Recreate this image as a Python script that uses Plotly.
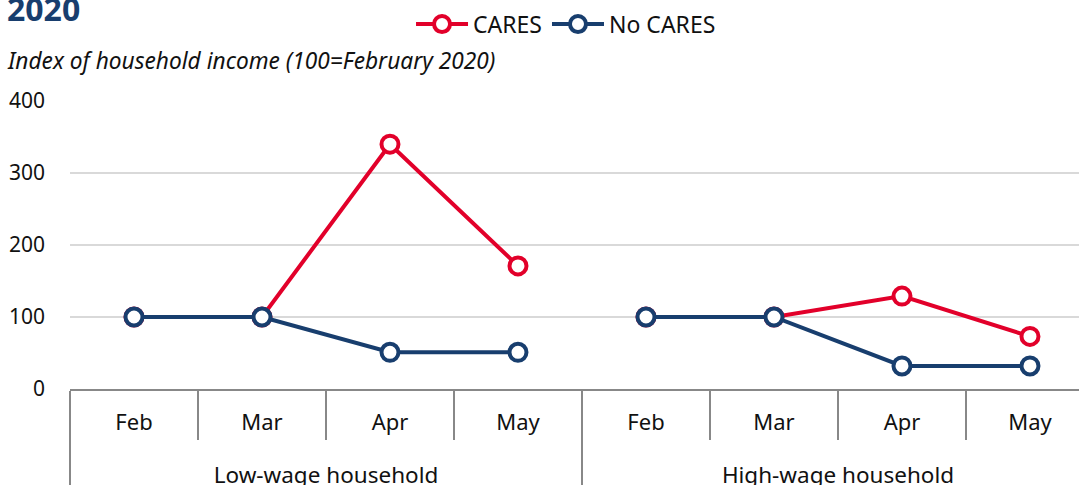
import plotly.graph_objects as go

group_names = ["Low-wage household", "High-wage household"]
months = ["Feb", "Mar", "Apr", "May"]
cares = {"Low-wage household": [100, 100, 340, 171],
         "High-wage household": [100, 100, 129, 73]}
no_cares = {"Low-wage household": [100, 100, 51, 51],
            "High-wage household": [100, 100, 32, 32]}
y_ticks = [0, 100, 200, 300, 400]

RED = "#e2002a"
NAVY = "#183e6e"
FONT = "Noto Sans"
MON = "<span style='font-size:22px'>{}</span>"
GRP = "<br><span style='font-size:22.5px'>{}</span>"

fig = go.Figure()
for name, data, col in [("CARES", cares, RED), ("No CARES", no_cares, NAVY)]:
    for i, g in enumerate(group_names):
        fig.add_trace(go.Scatter(
            x=[[GRP.format(g)] * len(months), [MON.format(m) for m in months]],
            y=data[g], name=name,
            legendgroup=name, showlegend=(i == 0), mode="lines+markers",
            line=dict(color=col, width=4),
            marker=dict(symbol="circle", size=17, color="white",
                        line=dict(color=col, width=4)),
        ))

fig.update_layout(
    width=1079, height=485,
    margin=dict(l=70, r=0, t=101, b=96, autoexpand=False),
    paper_bgcolor="white", plot_bgcolor="white",
    font=dict(family=FONT, size=21, color="#111"),
    showlegend=True,
    legend=dict(orientation="h", x=0.4916, xanchor="center", y=1.267, yanchor="middle",
                font=dict(size=23), traceorder="normal", itemwidth=52),
)
fig.update_xaxes(
    type="multicategory", range=[-0.5, 7.383], automargin=False,
    showline=True, linecolor="#888", linewidth=1.5,
    ticks="outside", tickson="boundaries", ticklen=49, tickcolor="#888", tickwidth=1.5,
    showdividers=True, dividercolor="#888", dividerwidth=1.5,
    showgrid=False, tickfont=dict(size=24), ticklabelstandoff=10,
)
fig.update_yaxes(
    range=[0, 400], tickvals=y_ticks, showgrid=True, gridcolor="#d9d9d9", gridwidth=1.5,
    zeroline=False, showline=False, ticks="", ticklabelstandoff=24, automargin=False,
    tickfont=dict(size=21),
)
fig.add_annotation(text="<b>2020</b>", xref="paper", yref="paper", x=-0.064, y=1.239,
                   xanchor="left", yanchor="bottom", showarrow=False,
                   font=dict(size=32, color=NAVY))
fig.add_annotation(text="<i>Index of household income (100=February 2020)</i>",
                   xref="paper", yref="paper", x=-0.064, y=1.142, xanchor="left",
                   yanchor="middle", showarrow=False, font=dict(size=22.7, color="#111"))
fig.write_html("out.html", post_script="document.body.style.margin='0';",
               config={"displayModeBar": False})
